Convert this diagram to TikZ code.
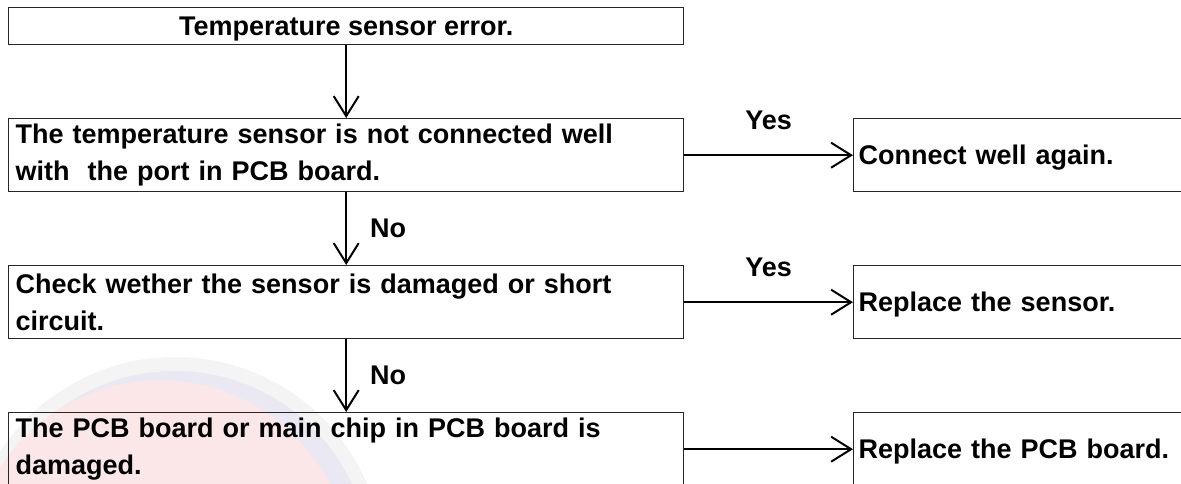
\documentclass[tikz,border=0pt]{standalone}
\usepackage{fontspec}
\setmainfont{Liberation Sans}
\usetikzlibrary{arrows.meta}
\definecolor{wmpink}{HTML}{FBE7E8}
\definecolor{wmblue}{HTML}{EAE8F3}
\definecolor{wmgray}{HTML}{F4F4F4}
\begin{document}
\begin{tikzpicture}[x=1pt,y=-1pt,
  box/.style={draw=black!85, line width=1.4pt, rectangle, inner sep=0pt,
    font=\fontsize{27}{37}\selectfont\bfseries},
  leftbox/.style={box, text width=661pt, inner xsep=7pt, minimum height=73pt,
    align=left, anchor=north west},
  rightbox/.style={box, text width=600pt, inner xsep=5pt, minimum height=73pt,
    align=left, anchor=north west, text height=19.5pt, text depth=0pt},
  conn/.style={line width=2pt, -{Straight Barb[length=20pt,width=25pt,line width=2pt]}},
  lab/.style={font=\fontsize{27}{32}\selectfont\bfseries, inner sep=0pt},
]
\useasboundingbox (0,0) rectangle (1181,484);
\clip (0,0) rectangle (1181,484);

% faint watermark
\fill[wmgray] (175,566) circle (209);
\fill[wmblue] (175,566) circle (195);
\fill[wmpink] (160,570) circle (190);

% boxes
\node[box, anchor=north west, minimum width=675pt, minimum height=37pt,
      text height=19.5pt, text depth=0pt] (t) at (8,7) {Temperature sensor error.};
\node[leftbox] (a) at (8,118) {The temperature sensor is not connected well\\with\ \ the port in PCB board.};
\node[leftbox] (b) at (8,265) {Check wether the sensor is damaged or short\\circuit.};
\node[leftbox] (c) at (8,412) {The PCB board or main chip in PCB board is\\damaged.};
\node[rightbox] (ra) at (853,118) {Connect well again.};
\node[rightbox] (rb) at (853,265) {Replace the sensor.};
\node[rightbox] (rc) at (853,412) {Replace the PCB board.};

% connectors
\draw[conn] (t.south) -- (a.north);
\draw[conn] (a.south) -- (b.north)
  node[midway, lab, anchor=base west, xshift=23pt, yshift=-9pt] {No};
\draw[conn] (b.south) -- (c.north)
  node[midway, lab, anchor=base west, xshift=23pt, yshift=-9pt] {No};
\draw[conn] (a.east) -- (ra.west)
  node[midway, lab, anchor=base, yshift=26pt] {Yes};
\draw[conn] (b.east) -- (rb.west)
  node[midway, lab, anchor=base, yshift=26pt] {Yes};
\draw[conn] (c.east) -- (rc.west);
\end{tikzpicture}
\end{document}
